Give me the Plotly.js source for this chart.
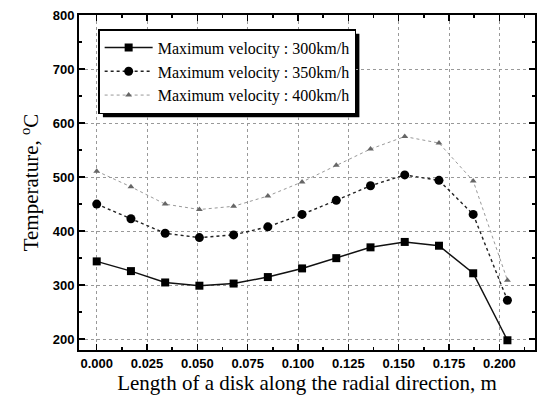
<!DOCTYPE html>
<html><head><meta charset="utf-8">
<script src="https://cdn.plot.ly/plotly-3.0.1.min.js"></script>
<style>html,body{margin:0;padding:0;background:#fff}</style>
</head><body><div id="chart" style="width:539px;height:401px"></div>
<script>
const xPos = [0, 0.017, 0.034, 0.051, 0.068, 0.085, 0.102, 0.119, 0.136, 0.153, 0.170, 0.187, 0.204];
const v300 = [344, 326, 305, 299, 303, 315, 331, 350, 370, 380, 373, 322, 198];
const v350 = [450, 423, 396, 388, 393, 408, 431, 457, 484, 504, 494, 431, 272];
const v400 = [511, 482, 450, 440, 446, 465, 491, 522, 552, 575, 563, 493, 309];
const seriesNames = ['Maximum velocity : 300km/h', 'Maximum velocity : 350km/h', 'Maximum velocity : 400km/h'];
const xTicks = [0, 0.025, 0.05, 0.075, 0.1, 0.125, 0.15, 0.175, 0.2];
const xTickText = ['0.000','0.025','0.050','0.075','0.100','0.125','0.150','0.175','0.200'];
const yTicks = [200, 300, 400, 500, 600, 700, 800];

const traces = [
  {x: xPos, y: v300, name: seriesNames[0], mode: 'lines+markers',
   line: {color: '#111', width: 1.5}, marker: {symbol: 'square', size: 8, color: '#000'}},
  {x: xPos, y: v350, name: seriesNames[1], mode: 'lines+markers',
   line: {color: '#222', width: 1.4, dash: 'dot'}, marker: {symbol: 'circle', size: 9, color: '#000'}},
  {x: xPos, y: v400, name: seriesNames[2], mode: 'lines+markers',
   line: {color: '#999', width: 1, dash: 'dot'}, marker: {symbol: 'triangle-up', size: 6, color: '#666'}}
];

const axisCommon = {
  showline: true, linecolor: '#000', linewidth: 2, mirror: 'ticks',
  ticks: 'inside', ticklen: 6, tickwidth: 1.5, tickcolor: '#000',
  showgrid: true, gridcolor: '#999', griddash: 'dot', gridwidth: 1,
  zeroline: false,
  tickfont: {family: 'Liberation Sans, Arial', size: 13, color: '#000', weight: 'bold'}
};

const layout = {
  width: 539, height: 401,
  margin: {l: 79, r: 4, t: 15, b: 51},
  paper_bgcolor: '#fff', plot_bgcolor: '#fff',
  showlegend: true,
  xaxis: Object.assign({}, axisCommon, {
    range: [-0.0088, 0.2177], tickvals: xTicks, ticktext: xTickText,
    minor: {ticks: 'inside', ticklen: 3, tickcolor: '#000', dtick: 0.0125, tick0: 0, showgrid: false},
    title: {text: 'Length of a disk along the radial direction, m', standoff: 6,
            font: {family: 'Liberation Serif, Times New Roman', size: 21, color: '#000'}}
  }),
  yaxis: Object.assign({}, axisCommon, {
    range: [180, 800], tickvals: yTicks,
    minor: {ticks: 'inside', ticklen: 3, tickcolor: '#000', dtick: 50, tick0: 0, showgrid: false},
    title: {text: 'Temperature, <sup>o</sup>C', standoff: 8,
            font: {family: 'Liberation Serif, Times New Roman', size: 21, color: '#000'}}
  }),
  legend: {
    x: 0.042, y: 0.958, xanchor: 'left', yanchor: 'top',
    bgcolor: '#fff', bordercolor: '#000', borderwidth: 1.5,
    font: {family: 'Liberation Serif, Times New Roman', size: 16, color: '#000'},
    tracegroupgap: 0, itemwidth: 48
  }
};

Plotly.newPlot('chart', traces, layout, {displayModeBar: false, staticPlot: true}).then(function (gd) {
  // drop shadow behind legend box, placed from the rendered legend's box
  const bg = gd.querySelector('.legend .bg');
  if (!bg) return;
  const r = bg.getBoundingClientRect();
  const g = gd.getBoundingClientRect();
  const fs = gd._fullLayout._size;
  const off = 4;
  const px = v => (v - g.left - fs.l) / fs.w;
  const py = v => 1 - (v - g.top - fs.t) / fs.h;
  Plotly.relayout(gd, {shapes: [{
    type: 'rect', xref: 'paper', yref: 'paper', layer: 'below',
    x0: px(r.left + off), x1: px(r.right + off), y0: py(r.bottom + off), y1: py(r.top + off),
    fillcolor: '#000', line: {width: 0}
  }]});
});
</script>
</body></html>
